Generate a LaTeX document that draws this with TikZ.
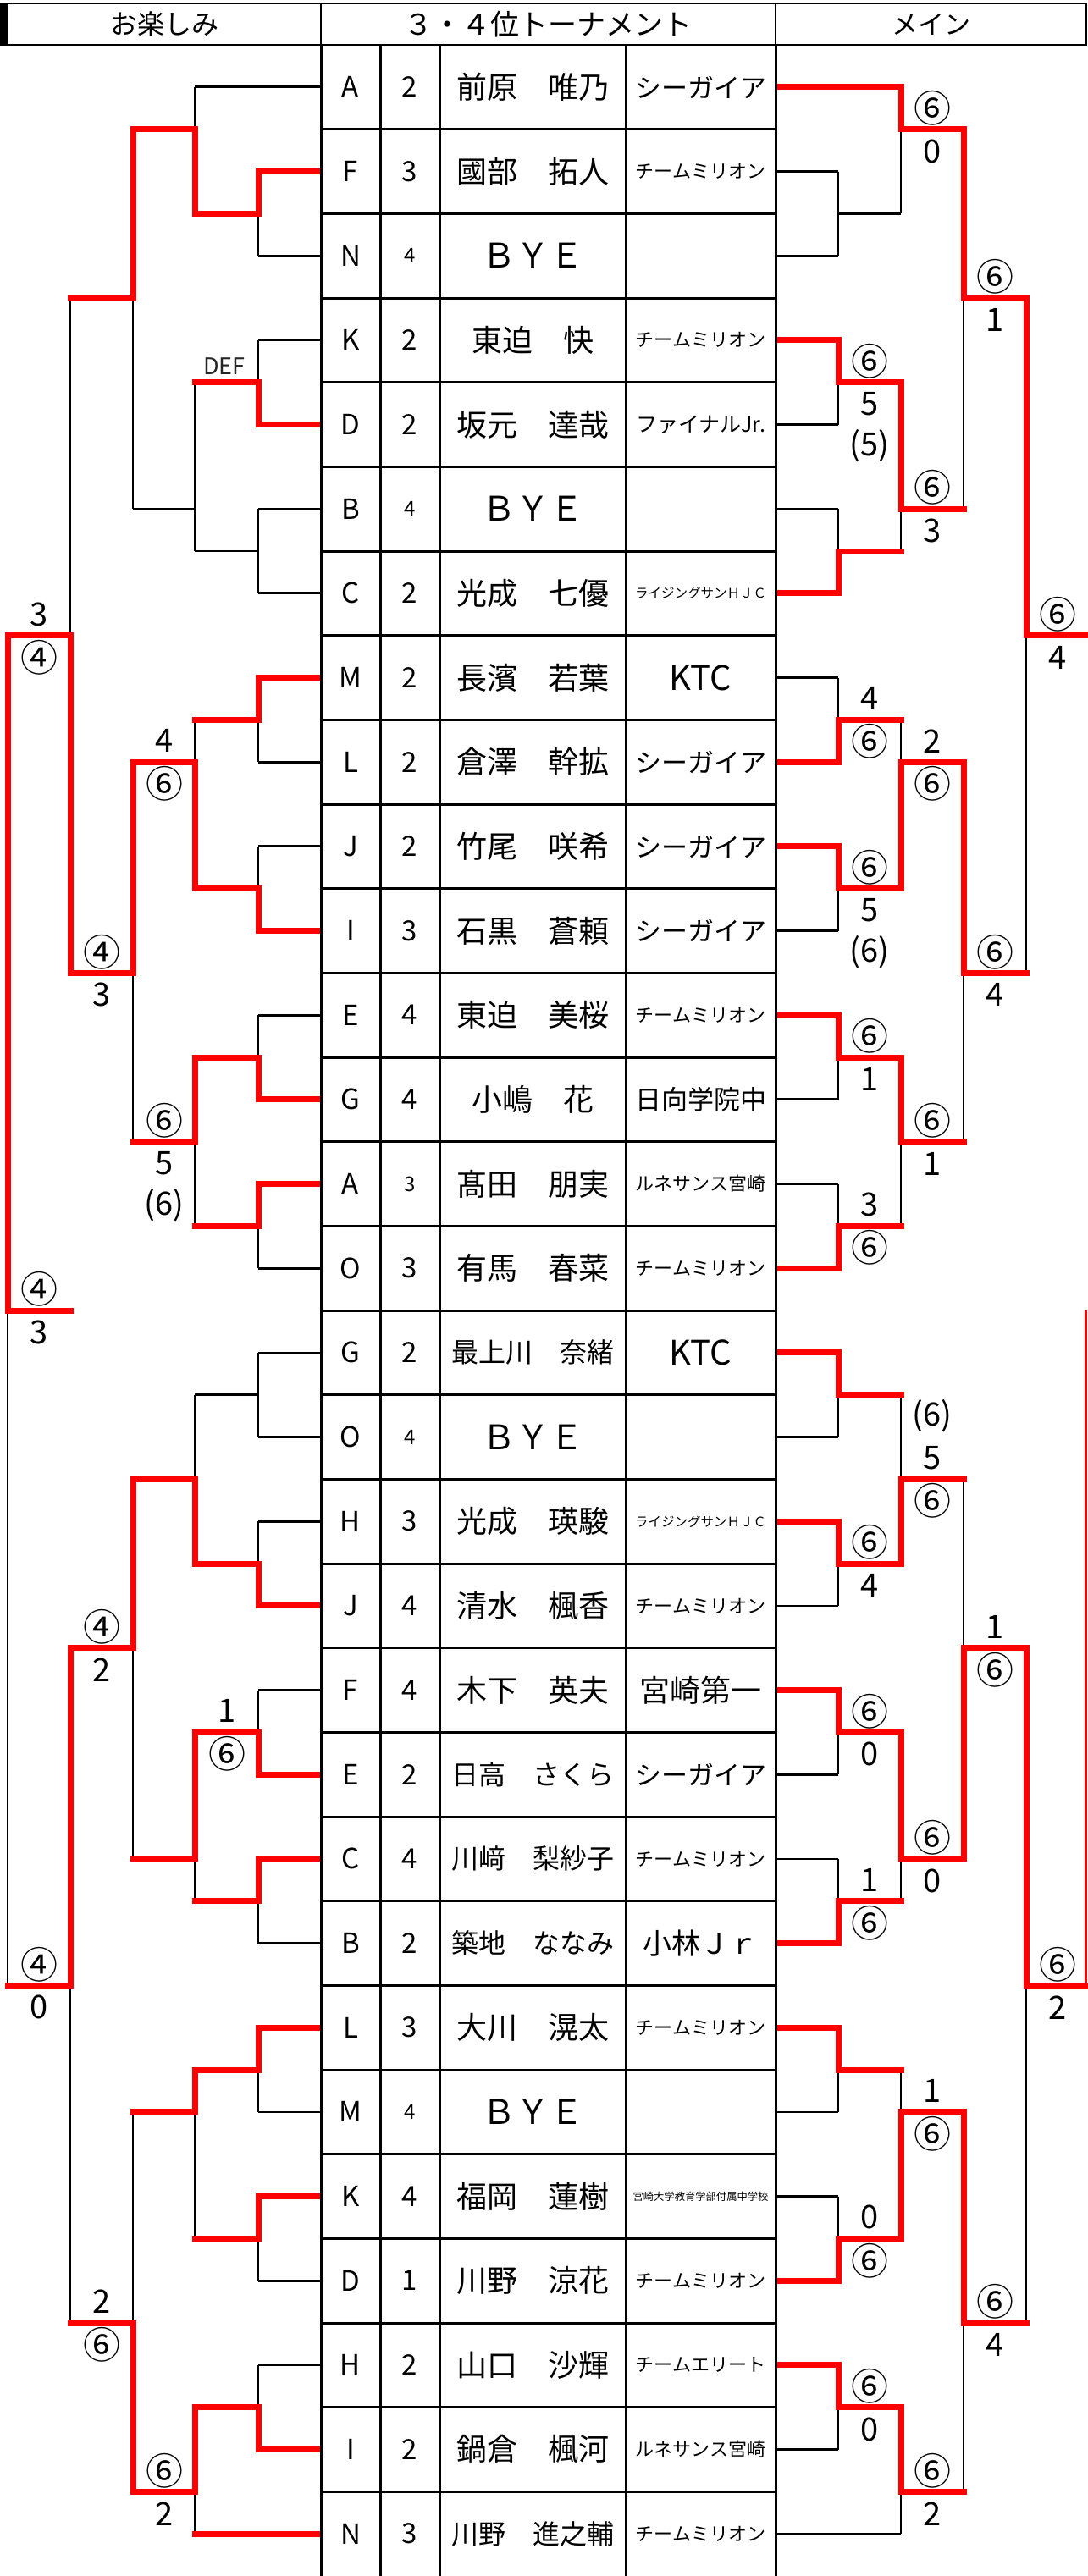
\documentclass[tikz,border=0pt]{standalone}
\usepackage{fontspec}
\setmainfont{Noto Sans CJK JP}
\newcommand{\fsz}[1]{\fontsize{#1}{#1}\selectfont}
\newcommand{\ringsix}{{\fsz{44}⑥}}
\newcommand{\ringfour}{{\fsz{44}④}}

\begin{document}
\begin{tikzpicture}[x=1pt,y=-49.833pt]
    \tikzstyle{blk}=[draw=black,line width=2.7pt]
    \tikzstyle{win}=[draw=red,line width=7pt,line cap=rect]
    \tikzstyle{rule}=[draw=black,line width=3pt]
    \tikzstyle{cell}=[inner sep=0pt]
    \tikzstyle{score}=[cell,font=\fsz{38}]

    \useasboundingbox (0,-1.0636) rectangle (1284,60);

    % bouts: x / next x / top / bottom / out / winner
    \def\bouts{305/230/3/5/4/3, 305/230/7/9/8/9, 305/230/11/13/12/-1, 305/230/15/17/16/15,
      305/230/19/21/20/21, 305/230/23/25/24/25, 305/230/27/29/28/27, 305/230/31/33/32/-1,
      305/230/35/37/36/37, 305/230/39/41/40/41, 305/230/43/45/44/43, 305/230/47/49/48/47,
      305/230/51/53/52/51, 305/230/55/57/56/57,
      230/157/1/4/2/4, 230/157/8/12/11/-1, 230/157/16/20/17/20, 230/157/24/28/26/24,
      230/157/32/36/34/36, 230/157/40/44/43/40, 230/157/48/52/49/48, 230/157/56/59/58/56,
      157/83/2/11/6/2, 157/83/17/26/22/17, 157/83/34/43/38/34, 157/83/49/58/54/58,
      83/9/6/22/14/22, 83/9/38/54/46/38, 9/83/14/46/30/14,
      990/1064/3/5/4/-1, 990/1064/7/9/8/7, 990/1064/11/13/12/13, 990/1064/15/17/16/17,
      990/1064/19/21/20/19, 990/1064/23/25/24/23, 990/1064/27/29/28/29, 990/1064/31/33/32/31,
      990/1064/35/37/36/35, 990/1064/39/41/40/39, 990/1064/43/45/44/45, 990/1064/47/49/48/47,
      990/1064/51/53/52/53, 990/1064/55/57/56/55,
      1064/1138/1/4/2/1, 1064/1138/8/12/11/8, 1064/1138/16/20/17/20, 1064/1138/24/28/26/24,
      1064/1138/32/36/34/36, 1064/1138/40/44/43/40, 1064/1138/48/52/49/52, 1064/1138/56/59/58/56,
      1138/1212/2/11/6/2, 1138/1212/17/26/22/17, 1138/1212/34/43/38/43, 1138/1212/49/58/54/49,
      1212/1285/6/22/14/6, 1212/1285/38/54/46/38}

    % lines out of the table
    \foreach \h/\nx in {1/230,5/305,7/305,11/305,13/305,17/305,19/305,23/305,29/305,
      31/305,33/305,35/305,39/305,45/305,49/305,53/305,55/305}
      \draw[blk] (379,\h) -- (\nx,\h);
    \foreach \h/\nx in {3/990,5/990,9/990,11/990,15/990,21/990,25/990,27/990,33/990,
      37/990,41/990,43/990,49/990,51/990,57/990,59/1064}
      \draw[blk] (916,\h) -- (\nx,\h);
    \foreach \x/\nx/\t/\b/\o/\w in \bouts {
      \draw[blk] (\x,\t) -- (\x,\b);
      \draw[blk] (\x,\o) -- (\nx,\o);
    }

    % winners
    \foreach \h/\nx in {3/305,9/305,15/305,21/305,25/305,27/305,37/305,41/305,43/305,
      47/305,51/305,57/305,59/230}
      \draw[win] (375.5,\h) -- (\nx,\h);
    \foreach \h/\nx in {1/1064,7/990,13/990,17/990,19/990,23/990,29/990,31/990,35/990,
      39/990,45/990,47/990,53/990,55/990}
      \draw[win] (919.5,\h) -- (\nx,\h);
    \foreach \x/\nx/\t/\b/\o/\w in \bouts {
      \ifnum\w>0 \draw[win] (\x,\w) -- (\x,\o) -- (\nx,\o); \fi
    }
    \draw[red,line width=3pt] (1282.5,30) -- (1282.5,46);

    % header
    \fill (0,-0.983) rectangle (10,0);
    \draw[line width=2.5pt] (0,-0.983) -- (1283,-0.983) -- (1283,0) -- (0,0);
    \draw[line width=2.5pt] (379,-0.983) -- (379,0) (916,-0.983) -- (916,0);
    \node[cell,font=\fsz{32}] (hdl) at (194.5,-0.49) {お楽しみ};
    \node[cell,font=\fsz{34}] (hdm) at (647.5,-0.49) {３・４位トーナメント};
    \node[cell,font=\fsz{31}] (hdr) at (1099.5,-0.49) {メイン};

    % table
    \foreach \k in {1,...,29} \draw[rule] (379,2*\k) -- (916,2*\k);
    \foreach \x in {379,449,519,739,916} \draw[rule] (\x,0) -- (\x,60);
    \foreach \l/\g/\gs/\n/\ns/\tm/\ts [count=\i from 0] in {
      A/2/33/前原　唯乃/36/シーガイア/31,
      F/3/33/國部　拓人/36/チームミリオン/22,
      N/4/24/ＢＹＥ/40/{}/10,
      K/2/33/東迫　快/36/チームミリオン/22,
      D/2/33/坂元　達哉/36/ファイナルJr./25,
      B/4/24/ＢＹＥ/40/{}/10,
      C/2/33/光成　七優/36/ライジングサンＨＪＣ/15.5,
      M/2/33/長濱　若葉/36/KTC/40,
      L/2/33/倉澤　幹拡/36/シーガイア/31,
      J/2/33/竹尾　咲希/36/シーガイア/31,
      I/3/33/石黒　蒼頼/36/シーガイア/31,
      E/4/33/東迫　美桜/36/チームミリオン/22,
      G/4/33/小嶋　花/36/日向学院中/31,
      A/3/24/髙田　朋実/36/ルネサンス宮崎/22,
      O/3/33/有馬　春菜/36/チームミリオン/22,
      G/2/33/最上川　奈緒/32/KTC/40,
      O/4/24/ＢＹＥ/40/{}/10,
      H/3/33/光成　瑛駿/36/ライジングサンＨＪＣ/15.5,
      J/4/33/清水　楓香/36/チームミリオン/22,
      F/4/33/木下　英夫/36/宮崎第一/36,
      E/2/33/日高　さくら/32/シーガイア/31,
      C/4/33/川﨑　梨紗子/32/チームミリオン/22,
      B/2/33/築地　ななみ/32/小林Ｊｒ/34,
      L/3/33/大川　滉太/36/チームミリオン/22,
      M/4/24/ＢＹＥ/40/{}/10,
      K/4/33/福岡　蓮樹/36/宮崎大学教育学部付属中学校/12.3,
      D/1/33/川野　涼花/36/チームミリオン/22,
      H/2/33/山口　沙輝/36/チームエリート/22,
      I/2/33/鍋倉　楓河/36/ルネサンス宮崎/22,
      N/3/33/川野　進之輔/32/チームミリオン/22} {
      \node[cell,font=\fsz{33}] (let-\i) at (414,2*\i+1) {\l};
      \node[cell,font=\fsz{\gs}] (gr-\i) at (484,2*\i+1) {\g};
      \node[cell,font=\fsz{\ns}] (nm-\i) at (629,2*\i+1) {\n};
      \node[cell,font=\fsz{\ts}] (tm-\i) at (827.5,2*\i+1) {\tm};
    }

    % scores
    \node[cell,font=\fsz{27},text=black!85] (def) at (265,7.62) {DEF};
    \foreach \x/\y/\s [count=\i] in {
      268/39.5/1, 268/40.52/\ringsix, 194/16.5/4, 194/17.52/\ringsix,
      194/25.5/\ringsix, 194/26.52/5, 194/27.5/{(6)}, 194/57.5/\ringsix, 194/58.52/2,
      120/21.5/\ringfour, 120/22.52/3, 120/37.5/\ringfour, 120/38.52/2,
      120/53.5/2, 120/54.52/\ringsix,
      46/13.5/3, 46/14.52/\ringfour, 46/29.5/\ringfour, 46/30.52/3,
      46/45.5/\ringfour, 46/46.52/0,
      1101/1.5/\ringsix, 1101/2.52/0, 1027/7.5/\ringsix, 1027/8.52/5, 1027/9.5/{(5)},
      1101/10.5/\ringsix, 1101/11.52/3, 1175/5.5/\ringsix, 1175/6.52/1,
      1249/13.5/\ringsix, 1249/14.52/4,
      1027/15.5/4, 1027/16.52/\ringsix, 1101/16.5/2, 1101/17.52/\ringsix,
      1027/19.5/\ringsix, 1027/20.52/5, 1027/21.5/{(6)}, 1175/21.5/\ringsix, 1175/22.52/4,
      1027/23.5/\ringsix, 1027/24.52/1, 1101/25.5/\ringsix, 1101/26.52/1,
      1027/27.5/3, 1027/28.52/\ringsix,
      1101/32.5/{(6)}, 1101/33.5/5, 1101/34.52/\ringsix, 1027/35.5/\ringsix, 1027/36.52/4,
      1175/37.5/1, 1175/38.52/\ringsix, 1027/39.5/\ringsix, 1027/40.52/0,
      1101/42.5/\ringsix, 1101/43.52/0,
      1027/43.5/1, 1027/44.52/\ringsix, 1249/45.5/\ringsix, 1249/46.52/2,
      1101/48.5/1, 1101/49.52/\ringsix,
      1027/51.5/0, 1027/52.52/\ringsix, 1175/53.5/\ringsix, 1175/54.52/4,
      1027/55.5/\ringsix, 1027/56.52/0,
      1101/57.5/\ringsix, 1101/58.52/2}
      \node[score] (sc-\i) at (\x,\y) {\s};
  \end{tikzpicture}
\end{document}
